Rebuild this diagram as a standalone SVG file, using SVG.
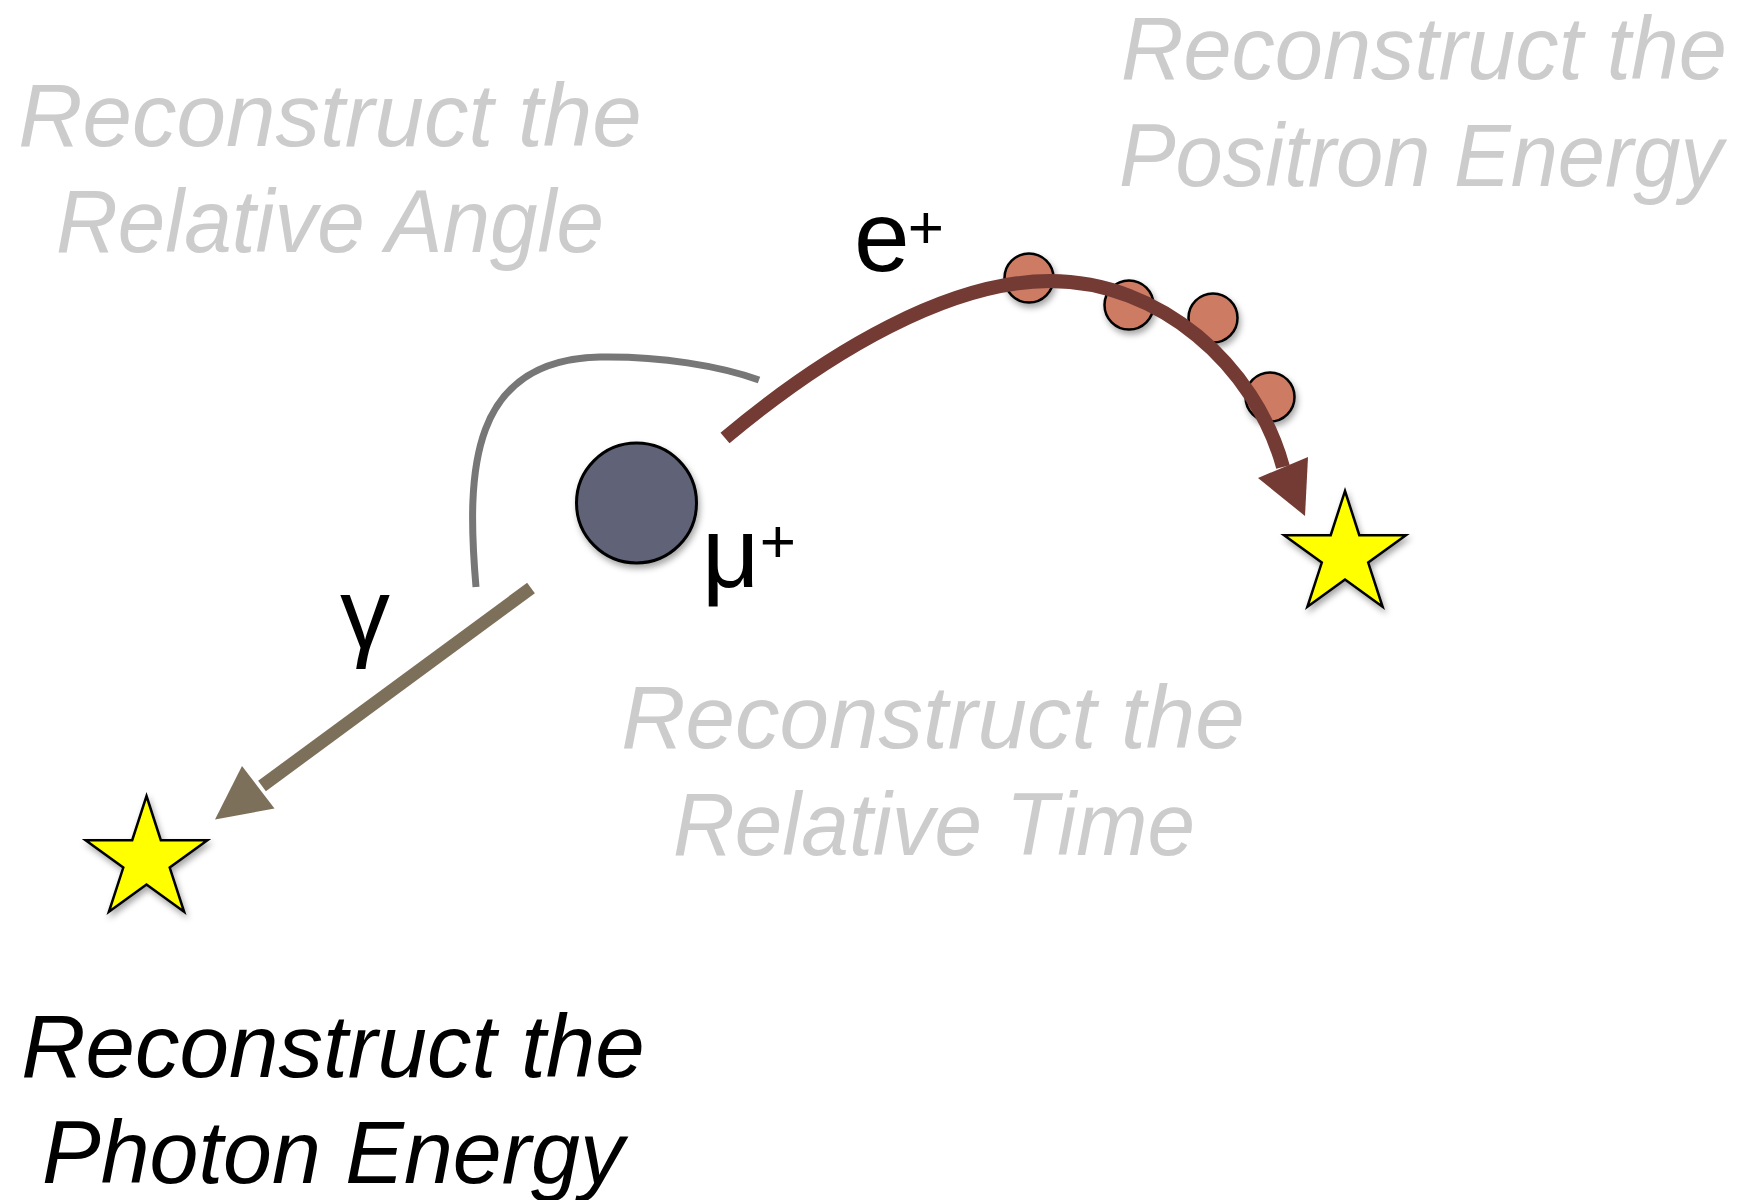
<svg xmlns="http://www.w3.org/2000/svg" width="1749" height="1200" viewBox="0 0 1749 1200">
<defs>
<filter id="shadow" x="-30%" y="-30%" width="160%" height="160%">
<feDropShadow dx="2" dy="4" stdDeviation="3" flood-color="#000" flood-opacity="0.35"/>
</filter>
<polygon id="starShape" points="0,-64 14.3,-19.8 60.9,-19.8 23.2,7.6 37.6,51.8 0,24.5 -37.6,51.8 -23.2,7.6 -60.9,-19.8 -14.3,-19.8"/>
<style>
.title{font-family:"Liberation Sans",Arial,sans-serif;font-style:italic;font-size:89px;text-anchor:middle}
.faint{fill:#cccccc}
.dark{fill:#000000}
.sym{font-family:"Liberation Sans",Arial,sans-serif;font-size:100px;fill:#000}
.star{fill:#ffff00;stroke:#000;stroke-width:2.5;stroke-linejoin:miter;filter:url(#shadow)}
.hit{fill:#cd7b63;stroke:#000;stroke-width:2.5;filter:url(#shadow)}
</style>
</defs>
<rect width="1749" height="1200" fill="#ffffff"/>

<g id="label-angle">
<text class="title faint" x="330" y="146">Reconstruct the</text>
<text class="title faint" x="330" y="252" textLength="548" lengthAdjust="spacingAndGlyphs">Relative Angle</text>
</g>
<g id="label-positron">
<text class="title faint" x="1424" y="79" textLength="606" lengthAdjust="spacingAndGlyphs">Reconstruct the</text>
<text class="title faint" x="1421" y="186" textLength="604" lengthAdjust="spacingAndGlyphs">Positron Energy</text>
</g>
<g id="label-time">
<text class="title faint" x="933" y="748">Reconstruct the</text>
<text class="title faint" x="934" y="855" textLength="522" lengthAdjust="spacingAndGlyphs">Relative Time</text>
</g>
<g id="label-photon">
<text class="title dark" x="333" y="1077">Reconstruct the</text>
<text class="title dark" x="333" y="1183" textLength="582" lengthAdjust="spacingAndGlyphs">Photon Energy</text>
</g>

<g id="hits">
<circle class="hit" cx="1029" cy="278" r="24.5"/>
<circle class="hit" cx="1129" cy="305" r="24.5"/>
<circle class="hit" cx="1213" cy="318" r="24.5"/>
<circle class="hit" cx="1270" cy="397" r="24.5"/>
</g>

<g id="muon">
<circle cx="636.5" cy="503" r="60" fill="#606378" stroke="#000" stroke-width="3" filter="url(#shadow)"/>
<text class="sym" x="702" y="587">μ<tspan font-size="62" dy="-25">+</tspan></text>
</g>

<g id="star-photon">
<use href="#starShape" class="star" x="146.5" y="860"/>
</g>
<g id="star-positron">
<use href="#starShape" class="star" x="1345" y="555"/>
</g>

<g id="connectors">
<path id="angle-arc" d="M 476 587 C 466 470, 470 360, 600 357 C 660 356, 720 366, 759 380" fill="none" stroke="#777777" stroke-width="7"/>
<g id="positron-track">
<path d="M 725 438 C 830 350, 950 281, 1050 281 C 1160 281, 1255 365, 1283 467" fill="none" stroke="#743a34" stroke-width="14"/>
<polygon points="1305,516 1258,478 1308,457" fill="#743a34"/>
<text class="sym" x="854" y="271">e<tspan font-size="62" dx="-2" dy="-23">+</tspan></text>
</g>
<g id="photon-track">
<line x1="531" y1="588" x2="262" y2="786" stroke="#7d705a" stroke-width="13"/>
<polygon points="215,819.5 242,766 274.5,808.5" fill="#7d705a"/>
<text class="sym" x="340" y="648" font-size="95">γ</text>
</g>
</g>
</svg>
